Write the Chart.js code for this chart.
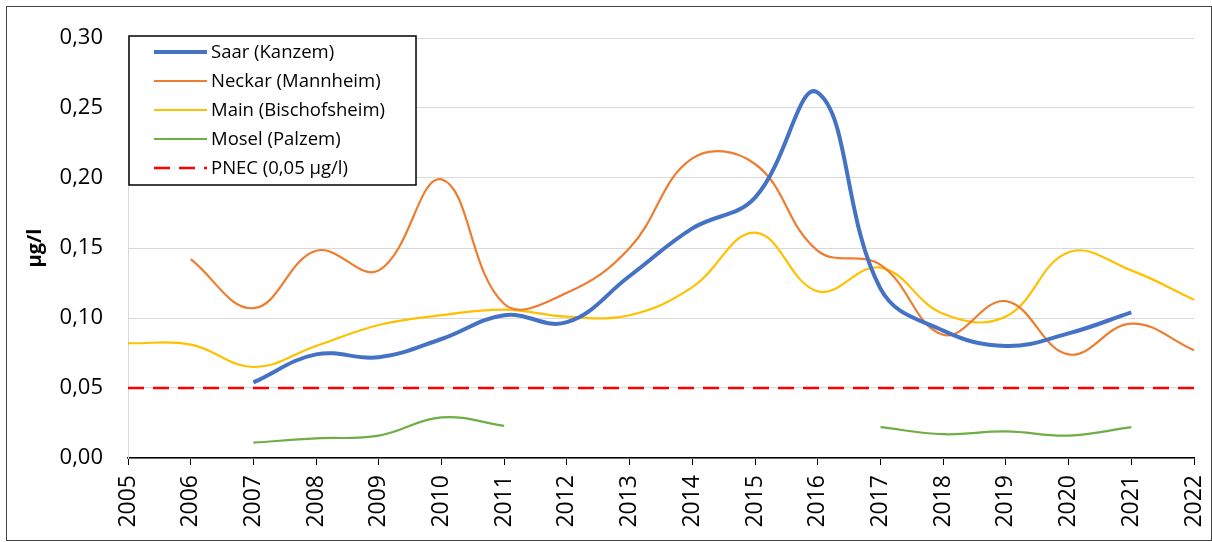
<!DOCTYPE html>
<html><head><meta charset="utf-8">
<script src="https://cdn.jsdelivr.net/npm/chart.js@4"></script>
<style>
html,body{margin:0;padding:0;background:#fff;}
#wrap{position:relative;width:1212px;height:542px;}
#frame{position:absolute;left:6px;top:6px;width:1206px;height:535px;border:1px solid #444;box-sizing:border-box;pointer-events:none;}
</style></head><body>
<div id="wrap"><canvas id="c" width="1212" height="542"></canvas><div id="frame"></div></div>
<script>
const years = ['2005','2006','2007','2008','2009','2010','2011','2012','2013','2014','2015','2016','2017','2018','2019','2020','2021','2022'];
const yTicks = [0,0.05,0.10,0.15,0.20,0.25,0.30];
const saar   = [null,null,0.054,0.074,0.072,0.085,0.102,0.097,0.130,0.164,0.186,0.261,0.121,0.091,0.080,0.089,0.104,null];
const neckar = [null,0.142,0.107,0.148,0.134,0.199,0.110,0.118,0.150,0.214,0.210,0.148,0.138,0.088,0.112,0.074,0.096,0.077];
const main   = [0.082,0.081,0.065,0.080,0.095,0.102,0.106,0.101,0.102,0.122,0.161,0.119,0.136,0.103,0.101,0.147,0.134,0.113];
const mosel  = [null,null,0.011,0.014,0.016,0.029,0.023,null,null,null,null,null,0.022,0.017,0.019,0.016,0.022,null];
const pnec   = [0.05,0.05,0.05,0.05,0.05,0.05,0.05,0.05,0.05,0.05,0.05,0.05,0.05,0.05,0.05,0.05,0.05,0.05];
const names  = ['Saar (Kanzem)','Neckar (Mannheim)','Main (Bischofsheim)','Mosel (Palzem)','PNEC (0,05 µg/l)'];

const FONT = "'Open Sans', 'Liberation Sans', sans-serif";
const XFONT = "'Open Sans', 'Liberation Sans', sans-serif";

const legendBox = {
  id:'legendBox',
  afterDraw(chart){
    const ctx = chart.ctx;
    const x0=129, y0=36, w=287, h=149;
    ctx.save();
    ctx.fillStyle='#fff';
    ctx.fillRect(x0,y0,w,h);
    ctx.strokeStyle='#000'; ctx.lineWidth=1.5;
    ctx.strokeRect(x0,y0,w,h);
    chart.data.datasets.forEach((ds,i)=>{
      const y = 52 + i*29;
      ctx.beginPath();
      ctx.strokeStyle = ds.borderColor;
      ctx.lineWidth = ds.borderWidth;
      ctx.setLineDash(ds.borderDash || []);
      ctx.moveTo(154,y); ctx.lineTo(207,y); ctx.stroke();
      ctx.setLineDash([]);
      ctx.fillStyle='#000';
      ctx.font = "18.5px " + FONT;
      ctx.textBaseline='middle';
      ctx.fillText(ds.label, 211, y+1);
    });
    ctx.restore();
  }
};

const mk = (label,data,color,w,extra)=>Object.assign({label,data,borderColor:color,backgroundColor:color,borderWidth:w,pointRadius:0,tension:0.4,fill:false,spanGaps:false},extra||{});

new Chart(document.getElementById('c'),{
  type:'line',
  data:{labels:years,datasets:[
    mk(names[0],saar,'#4472C4',4),
    mk(names[1],neckar,'#ED7D31',2.2),
    mk(names[2],main,'#FFC000',2.2),
    mk(names[3],mosel,'#70AD47',2.2),
    mk(names[4],pnec,'#FF0000',2.5,{borderDash:[16,9],tension:0})
  ]},
  options:{
    responsive:false,animation:false,
    layout:{padding:{left:6,top:38,right:18,bottom:2}},
    plugins:{legend:{display:false},tooltip:{enabled:false}},
    scales:{
      x:{
        offset:false,
        grid:{display:true,drawOnChartArea:false,drawTicks:true,tickLength:7,color:'#000',lineWidth:1},
        border:{display:true,color:'#000',width:1.5},
        ticks:{minRotation:90,maxRotation:90,autoSkip:false,padding:10,color:'#000',font:{family:XFONT,size:23}},
        afterFit(s){s.height=82; s.paddingLeft=0; s.paddingRight=0;}
      },
      y:{
        min:0,max:0.30,
        afterBuildTicks(s){s.ticks=yTicks.map(v=>({value:v}));},
        grid:{color:'#d9d9d9',lineWidth:1,drawTicks:false},
        border:{display:true,color:'#d9d9d9'},
        ticks:{padding:25,color:'#000',font:{family:FONT,size:22},callback:v=>v.toFixed(2).replace('.',',')},
        title:{display:true,text:'µg/l',color:'#000',font:{family:FONT,size:20,weight:'bold'},padding:{top:17,bottom:0}},
        afterFit(s){s.width=122; s.paddingTop=0; s.paddingBottom=0;}
      }
    }
  },
  plugins:[legendBox]
});
</script>
</body></html>
